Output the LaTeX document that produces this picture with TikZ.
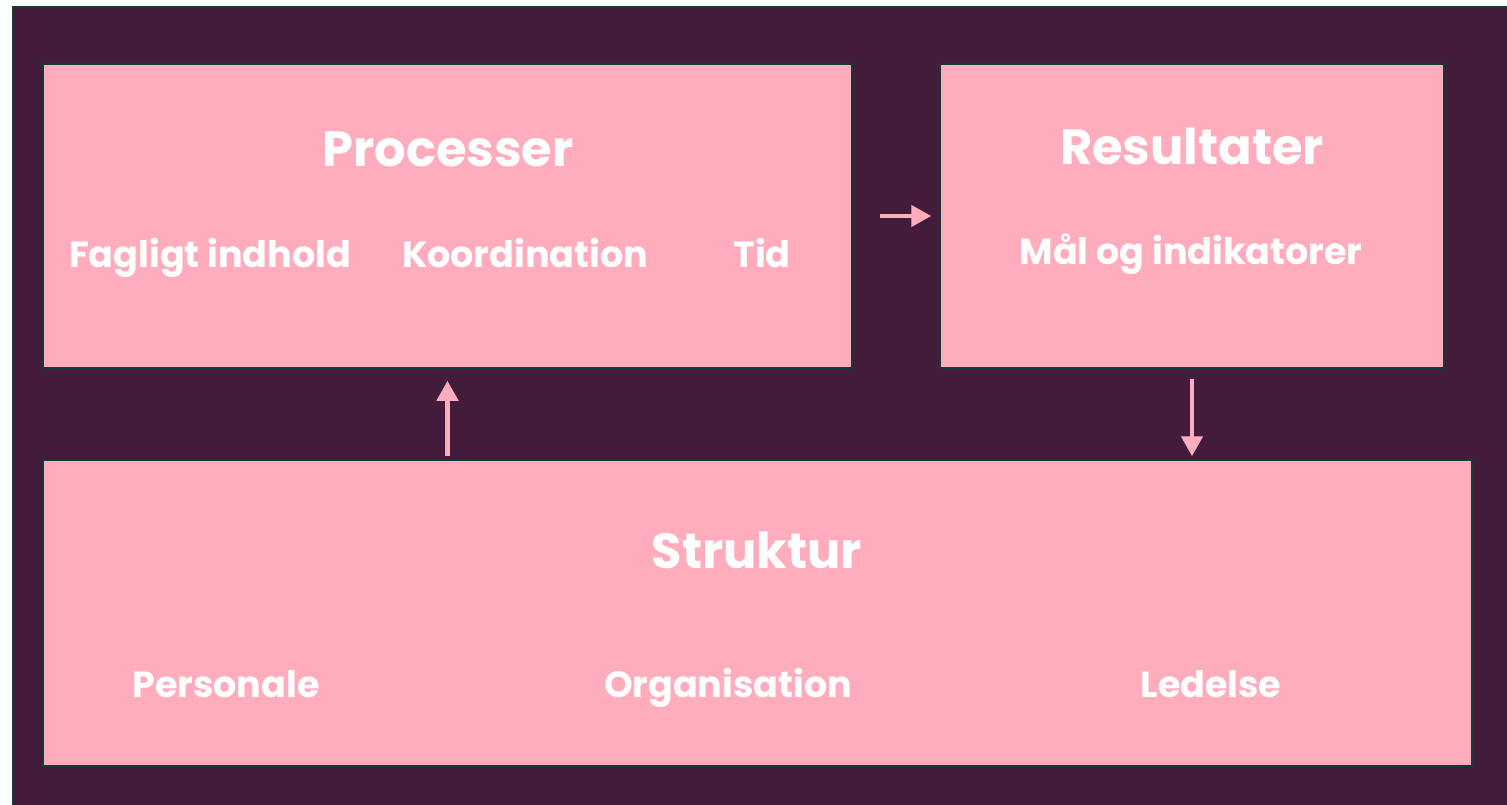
\documentclass[tikz,border=0pt]{standalone}
\usepackage{fontspec}
\setmainfont{Poppins}
\usetikzlibrary{arrows.meta,positioning}
\definecolor{bgpurple}{HTML}{431B3B}
\definecolor{boxpink}{HTML}{FFADBD}
\definecolor{edgeteal}{HTML}{123B37}
\begin{document}
\begin{tikzpicture}[
  x=1pt,y=-1pt,
  box/.style={rectangle,draw=edgeteal,line width=1.5pt,fill=boxpink,inner sep=0pt},
  title/.style={anchor=base,text=white,font=\fontsize{49.5}{54}\selectfont\bfseries},
  item/.style={anchor=base,text=white,font=\fontsize{36.5}{40}\selectfont\bfseries},
  arr/.style={draw=boxpink,line width=4.5pt,-{Triangle[length=20pt,width=21pt]}}]

  \useasboundingbox[fill=white] (0,0) rectangle (1507,805);
  \fill[bgpurple,draw=edgeteal,line width=2pt] (13,7) rectangle (1510,810);

  \node(proc) [box,minimum width=809pt,minimum height=304pt] at (447.5,216) {};
  \node(res)  [box,minimum width=504pt,minimum height=304pt] at (1192,216) {};
  \node(struk)[box,minimum width=1429pt,minimum height=306pt] at (757.5,613) {};

  \node(proctitle) [title] at (448,167) {Processer};
  \node(fag)       [item]  at (210,267) {Fagligt indhold};
  \node(koord)     [item]  at (525,267) {Koordination};
  \node(tid)       [item]  at (762,267) {Tid};

  \node(restitle)  [title] at (1192,165) {Resultater};
  \node(maal)      [item]  at (1191,264) {Mål og indikatorer};

  \node(struktitle)[title] at (757,568) {Struktur};
  \node(pers)      [item]  at (226,697) {Personale};
  \node(org)       [item]  at (728,697) {Organisation};
  \node(led)       [item]  at (1211,697) {Ledelse};

  \draw[arr] ([xshift=27pt]proc.east) -- ([xshift=-8pt]res.west);
  \draw[arr] ([yshift=3pt]proc.south |- struk.north) -- ([yshift=-12pt]proc.south);
  \draw[arr] ([yshift=-10pt]res.south) -- ([yshift=3pt]res.south |- struk.north);

\end{tikzpicture}
\end{document}
